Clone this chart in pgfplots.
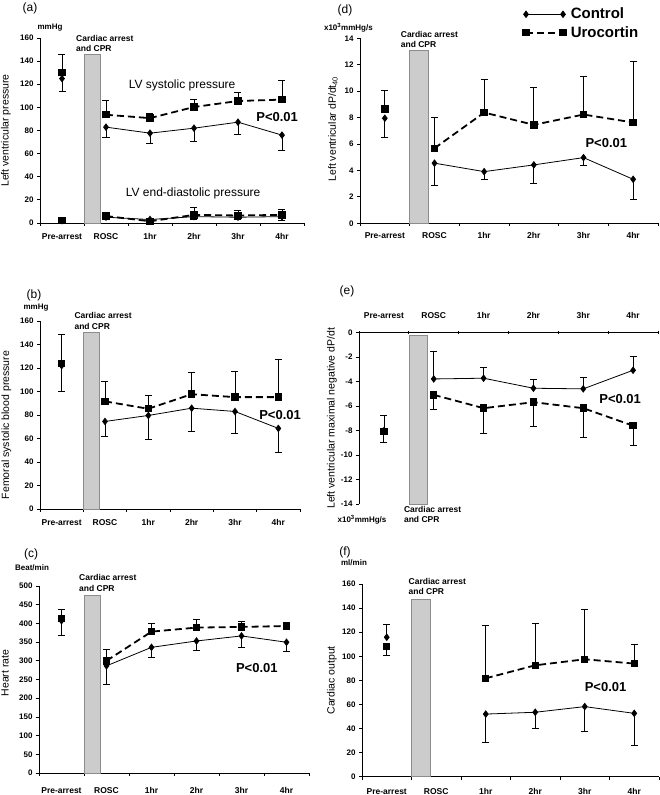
\documentclass[border=0pt]{standalone}
\usepackage{pgfplots}
\pgfplotsset{compat=1.18}
\usepackage{fontspec}
\setmainfont{Liberation Sans}
\definecolor{barfill}{RGB}{204,204,204}
\definecolor{bardraw}{RGB}{140,140,140}
\newcommand{\fs}[1]{\fontsize{#1}{#1}\selectfont}
\tikzset{
  ctrlline/.style={black, line width=0.8pt, mark=diamond*, mark size=3.2pt, mark options={solid}},
  uroline/.style={black, line width=1.8pt, dash pattern=on 7pt off 4pt, mark=square*, mark size=2.8pt, mark options={solid}},
}
\pgfplotsset{
  every non boxed x axis/.append style={x axis line style={-}},
  every non boxed y axis/.append style={y axis line style={-}},
  panel/.style={
    scale only axis,
    clip=false,
    axis x line=bottom, axis y line=left,
    axis line style={-, line width=0.9pt},
    xmin=-0.5, xmax=5.5,
    xtick={0,...,5},
    xticklabels={Pre-arrest,ROSC,1hr,2hr,3hr,4hr},
    minor xtick={-0.5,0.5,...,5.5},
    tick align=outside,
    major tick length=3pt, minor tick length=3pt,
    tick style={black, line width=0.8pt},
    major x tick style={draw=none},
    xticklabel style={font=\bfseries\fs{8.5}, anchor=base},
    yticklabel style={font=\bfseries\fs{8}},
    /pgf/number format/assume math mode=true,
    ylabel style={font=\fs{10.5}, anchor=center},
    legend image code/.code={\draw[##1] plot coordinates {(0pt,0pt) (37pt,0pt)};},
  },
  ctrl/.style={ctrlline, error bars/y dir=minus, error bars/y explicit,
     error bars/error bar style={line width=0.8pt, solid},
     error bars/error mark options={rotate=90, mark size=3.5pt, line width=0.8pt, solid}},
  uro/.style={uroline, error bars/y dir=plus, error bars/y explicit,
     error bars/error bar style={line width=0.9pt, solid},
     error bars/error mark options={rotate=90, mark size=3.5pt, line width=0.9pt, solid}},
  bar/.style={fill=barfill, draw=bardraw, line width=0.5pt, mark=none, forget plot},
}
\tikzset{
  cpr/.style={font=\bfseries\fontsize{8.5}{10.5}\selectfont, align=left, inner sep=0pt},
  pval/.style={font=\bfseries\fs{13}},
  unit/.style={font=\bfseries\fs{8}, inner sep=0pt},
  plabel/.style={font=\fs{12}, inner sep=0pt},
}
\begin{document}
\begin{tikzpicture}
\path[use as bounding box] (0,0) rectangle (660pt,795pt);

% (a)
\begin{axis}[panel, at={(40pt,572pt)}, anchor=south west, width=264pt, height=185pt,
  ymin=0, ymax=160, ytick={0,20,...,160},
  xticklabel style={yshift=-14pt},
  ylabel={Left ventricular pressure},
  ylabel style={at={(axis description cs:0,0.5)}, yshift=34pt}]
\addplot[bar] coordinates {(0.5,0) (0.87,0) (0.87,146) (0.5,146)} -- cycle;
\addplot[ctrl, forget plot] coordinates {(1,82.9) +- (0,8.7) (2,77.7) +- (0,8.7) (3,82) +- (0,11.3) (4,87.2) +- (0,10.4) (5,76) +- (0,13.4)};
\addplot[ctrl, only marks, forget plot] coordinates {(0,124.9) +- (0,11)};
\addplot[uro, forget plot] coordinates {(1,93.6) +- (0,12.2) (2,90.7) +- (0,4.1) (3,100.3) +- (0,6.4) (4,105.5) +- (0,7) (5,106.7) +- (0,16.8)};
\addplot[uro, only marks, forget plot] coordinates {(0,130.1) +- (0,15.7)};
\addplot[ctrl, forget plot] coordinates {(1,5) +- (0,2) (2,3) +- (0,1.5) (3,5.5) +- (0,2.5) (4,5) +- (0,2) (5,5.5) +- (0,3)};
\addplot[ctrl, only marks, forget plot] coordinates {(0,2) +- (0,1)};
\addplot[uro, forget plot] coordinates {(1,6) +- (0,3) (2,1.5) +- (0,2.5) (3,7) +- (0,6.5) (4,6.5) +- (0,4) (5,7) +- (0,5)};
\addplot[uro, only marks, forget plot] coordinates {(0,2) +- (0,1.5)};
\node[cpr, anchor=south west, xshift=-8pt, yshift=2pt] at (axis cs:0.5,146) {Cardiac arrest\\and CPR};
\node[font=\fs{12}] at (axis cs:2.73,119.4) {LV systolic pressure};
\node[font=\fs{12}] at (axis cs:2.98,26) {LV end-diastolic pressure};
\node[pval] at (axis cs:4.89,91.7) {P<0.01};
\end{axis}

% (d)
\begin{axis}[panel, at={(360pt,571.7pt)}, anchor=south west, width=298pt, height=185pt,
  ymin=0, ymax=14, ytick={0,2,...,14},
  xticklabel style={yshift=-12pt},
  ylabel={Left ventricular dP/dt\textsubscript{40}},
  ylabel style={at={(axis description cs:0,0.51)}, yshift=27pt},
  legend style={at={(axis description cs:0.547,1.175)}, anchor=north west, draw=none, fill=none,
    font=\bfseries\fs{15}, row sep=2pt, column sep=3pt, inner sep=0pt},
  legend cell align=left]
\addlegendimage{ctrlline}
\addlegendentry{Control}
\addlegendimage{uroline}
\addlegendentry{Urocortin}
\addplot[bar] coordinates {(0.5,0) (0.87,0) (0.87,13.1) (0.5,13.1)} -- cycle;
\addplot[ctrl, forget plot] coordinates {(1,4.55) +- (0,1.72) (2,3.91) +- (0,0.58) (3,4.42) +- (0,1.39) (4,4.97) +- (0,0.6) (5,3.33) +- (0,1.51)};
\addplot[ctrl, only marks, forget plot] coordinates {(0,7.95) +- (0,1.45)};
\addplot[uro, forget plot] coordinates {(1,5.68) +- (0,2.3) (2,8.38) +- (0,2.52) (3,7.45) +- (0,2.85) (4,8.23) +- (0,2.87) (5,7.63) +- (0,4.62)};
\addplot[uro, only marks, forget plot] coordinates {(0,8.64) +- (0,1.43)};
\node[cpr, anchor=south west, xshift=-9pt, yshift=2pt] at (axis cs:0.5,13.1) {Cardiac arrest\\and CPR};
\node[pval] at (axis cs:4.46,6.08) {P<0.01};
\end{axis}

% (b)
\begin{axis}[panel, at={(40pt,286pt)}, anchor=south west, width=260pt, height=188pt,
  ymin=0, ymax=160, ytick={0,20,...,160},
  xticklabel style={yshift=-14pt},
  ylabel={Femoral systolic blood pressure},
  ylabel style={at={(axis description cs:0,0.447)}, yshift=33.5pt}]
\addplot[bar] coordinates {(0.5,0) (0.87,0) (0.87,150) (0.5,150)} -- cycle;
\addplot[ctrl, forget plot] coordinates {(1,74.5) +- (0,12.7) (2,79.6) +- (0,20.7) (3,85.8) +- (0,19.8) (4,83) +- (0,18.4) (5,68.6) +- (0,20.4)};
\addplot[ctrl, only marks, forget plot] coordinates {(0,122) +- (0,22.3)};
\addplot[uro, forget plot] coordinates {(1,91.6) +- (0,17) (2,85.3) +- (0,11) (3,97.7) +- (0,18.2) (4,95.2) +- (0,21.8) (5,95.2) +- (0,32.3)};
\addplot[uro, only marks, forget plot] coordinates {(0,124) +- (0,24.7)};
\node[cpr, anchor=south west, xshift=-9pt, yshift=3pt] at (axis cs:0.5,150) {Cardiac arrest\\and CPR};
\node[pval] at (axis cs:5.04,80) {P<0.01};
\end{axis}

% (e)
\begin{axis}[panel, axis x line=top, at={(359pt,291pt)}, anchor=south west, width=299pt, height=171.3pt,
  ymin=-14, ymax=0, ytick={-14,-12,...,0},
  xticklabel style={yshift=13pt},
  ylabel={Left ventricular maximal negative dP/dt},
  ylabel style={at={(axis description cs:0,0.5)}, yshift=27pt}]
\addplot[bar] coordinates {(0.5,-14) (0.87,-14) (0.87,-0.2) (0.5,-0.2)} -- cycle;
\addplot[ctrl, error bars/y dir=plus, forget plot] coordinates {(1,-3.78) +- (0,2.28) (2,-3.72) +- (0,0.87) (3,-4.54) +- (0,0.74) (4,-4.59) +- (0,0.92) (5,-3.07) +- (0,1.17)};
\addplot[ctrl, error bars/y dir=plus, only marks, forget plot] coordinates {(0,-8.0) +- (0,1.2)};
\addplot[uro, error bars/y dir=minus, forget plot] coordinates {(1,-5.08) +- (0,1.22) (2,-6.17) +- (0,2.03) (3,-5.68) +- (0,1.98) (4,-6.17) +- (0,2.39) (5,-7.6) +- (0,1.6)};
\addplot[uro, error bars/y dir=minus, only marks, forget plot] coordinates {(0,-8.07) +- (0,0.93)};
\node[cpr, anchor=north west, xshift=-5pt, yshift=-2pt] at (axis cs:0.5,-14) {Cardiac arrest\\and CPR};
\node[pval] at (axis cs:4.74,-5.42) {P<0.01};
\end{axis}

% (c)
\begin{axis}[panel, at={(39pt,22pt)}, anchor=south west, width=270pt, height=187pt,
  ymin=0, ymax=500, ytick={0,50,...,500},
  xticklabel style={yshift=-17pt},
  ylabel={Heart rate},
  ylabel style={at={(axis description cs:0,0.535)}, yshift=34pt}]
\addplot[bar] coordinates {(0.5,0) (0.87,0) (0.87,474) (0.5,474)} -- cycle;
\addplot[ctrl, forget plot] coordinates {(1,286.5) +- (0,50.7) (2,336) +- (0,26.4) (3,353) +- (0,24) (4,366.5) +- (0,31) (5,349.6) +- (0,25)};
\addplot[ctrl, only marks, forget plot] coordinates {(0,407) +- (0,38)};
\addplot[uro, forget plot] coordinates {(1,300) +- (0,31) (2,378) +- (0,20.6) (3,388.8) +- (0,22.2) (4,390.6) +- (0,14.2) (5,393) +- (0,9)};
\addplot[uro, only marks, forget plot] coordinates {(0,413.7) +- (0,22.3)};
\node[cpr, anchor=south west, xshift=-5pt, yshift=4pt] at (axis cs:0.5,474) {Cardiac arrest\\and CPR};
\node[pval] at (axis cs:4.34,281.6) {P<0.01};
\end{axis}

% (f)
\begin{axis}[panel, at={(362pt,18.3pt)}, anchor=south west, width=297pt, height=192.7pt,
  ymin=0, ymax=160, ytick={0,20,...,160},
  xticklabel style={yshift=-15pt},
  ylabel={Cardiac output},
  ylabel style={at={(axis description cs:0,0.5)}, yshift=30pt}]
\addplot[bar] coordinates {(0.5,0) (0.87,0) (0.87,147.6) (0.5,147.6)} -- cycle;
\addplot[ctrl, forget plot] coordinates {(2,52) +- (0,23.5) (3,53.5) +- (0,13.6) (4,58.2) +- (0,20.2) (5,52.6) +- (0,26.3)};
\addplot[ctrl, error bars/y dir=plus, only marks, forget plot] coordinates {(0,115.8) +- (0,10.5)};
\addplot[uro, forget plot] coordinates {(2,81.7) +- (0,43.8) (3,92.5) +- (0,34.9) (4,97.5) +- (0,41.5) (5,93.9) +- (0,16.1)};
\addplot[uro, error bars/y dir=minus, only marks, forget plot] coordinates {(0,108) +- (0,7.2)};
\node[cpr, anchor=south west, xshift=-3pt, yshift=4pt] at (axis cs:0.5,147.6) {Cardiac arrest\\and CPR};
\node[pval] at (axis cs:4.42,74.7) {P<0.01};
\end{axis}

% panel letters and units
\node[plabel] at (30pt,787pt) {(a)};
\node[plabel] at (345pt,785pt) {(d)};
\node[plabel] at (34pt,500pt) {(b)};
\node[plabel] at (347pt,504pt) {(e)};
\node[plabel] at (31pt,241pt) {(c)};
\node[plabel] at (345pt,243pt) {(f)};
\node[unit] at (50pt,767pt) {mmHg};
\node[unit, anchor=east] at (373pt,767pt) {x10\textsuperscript{3}mmHg/s};
\node[unit] at (36pt,487pt) {mmHg};
\node[unit] at (362pt,275pt) {x10\textsuperscript{3}mmHg/s};
\node[unit] at (32pt,227pt) {Beat/min};
\node[unit] at (354pt,232pt) {ml/min};
\end{tikzpicture}
\end{document}
